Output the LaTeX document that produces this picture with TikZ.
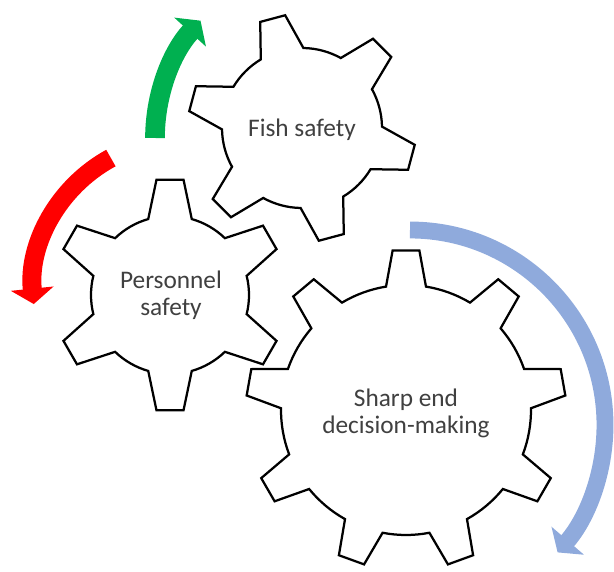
\documentclass[tikz,border=0pt]{standalone}
\usepackage{fontspec}
\setmainfont{Carlito}
\usetikzlibrary{arrows.meta}
\definecolor{fishgreen}{RGB}{0,176,80}
\definecolor{sharpblue}{RGB}{143,170,220}
\definecolor{labelgray}{RGB}{64,64,64}

\begin{document}
\begin{tikzpicture}[x=0.025cm, y=0.025cm,
  gearline/.style={draw=black, line width=1.6pt, line join=miter, fill=white},
  gearlabel/.style={text=labelgray, font=\fontsize{18}{19.2}\selectfont, align=center},
  turnarrow/.style={-{Triangle[width=30pt,length=11pt]}}]

  % centre x, centre y, teeth, inner r, outer r, phase, base half-angle, top half-angle
  \newcommand{\drawGear}[8]{
    \begin{scope}[shift={(#1,#2)}]
      \pgfmathsetmacro{\gstep}{360/#3}
      \draw[gearline] ({#6-#7}:#4)
        \foreach \k in {1,...,#3}{
          -- ({#6+(\k-1)*\gstep-#8}:#5) -- ({#6+(\k-1)*\gstep+#8}:#5)
          -- ({#6+(\k-1)*\gstep+#7}:#4)
          arc[start angle={#6+(\k-1)*\gstep+#7}, end angle={#6+\k*\gstep-#7}, radius=#4]
        } -- cycle;
    \end{scope}
  }

  \useasboundingbox (0,0) rectangle (614,572);

  % pivots of the turning arrows
  \coordinate (greenpivot) at (329,434);
  \coordinate (redpivot) at (182,283);
  \coordinate (bluepivot) at (410,147);

  \draw[turnarrow, draw=fishgreen, line width=14pt]
    (greenpivot) ++(180:174) arc[start angle=180, end angle=137.6, radius=174];
  \draw[turnarrow, draw=red, line width=13.5pt]
    (redpivot) ++(118.5:149) arc[start angle=118.5, end angle=185.8, radius=149];
  \draw[turnarrow, draw=sharpblue, line width=12pt]
    (bluepivot) ++(90:195) arc[start angle=90, end angle=-40.8, radius=195];

  % the three gears
  \drawGear{302}{444}{6}{80}{114}{105}{16}{6.5}
  \drawGear{170}{277}{6}{79}{116}{90}{16}{6.7}
  \drawGear{406}{162}{9}{125}{160}{90}{9.2}{4.8}

  \node[gearlabel] (fish) at (302,442) {Fish safety};
  \node[gearlabel] (personnel) at (171,277) {Personnel\\safety};
  \node[gearlabel] (sharp) at (406,159) {Sharp end\\decision-making};
\end{tikzpicture}
\end{document}
